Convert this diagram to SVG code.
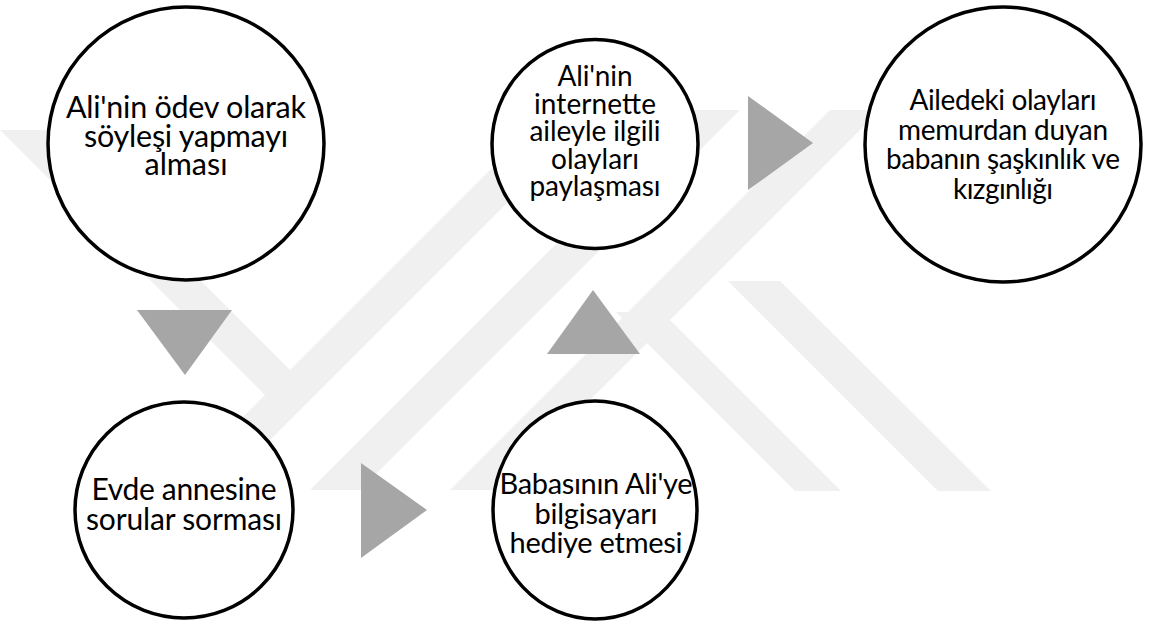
<svg xmlns="http://www.w3.org/2000/svg" width="1150" height="626" viewBox="0 0 1150 626">
<style>
.wm{fill:#f0f0f0}
.node ellipse{fill:#fff;stroke:#000;stroke-width:3.5}
.node text{font-family:Lato,"Liberation Sans",sans-serif;fill:#000;text-anchor:middle}
.arr{fill:#a6a6a6}
</style>
<rect width="1150" height="626" fill="#fff"/>
<g id="watermark">
<polygon class="wm" points="0,130 50,130 315,395 265,395"/>
<polygon class="wm" points="190,470 240,470 610,100 560,100"/>
<polygon class="wm" points="310,490 360,490 740,110 690,110"/>
<polygon class="wm" points="450,490 500,490 880,110 830,110"/>
<polygon class="wm" points="616,312 662,312 841,491 795,491"/>
<polygon class="wm" points="728,281 780,281 991,491 938,491"/>
</g>
<g id="connectors">
<polygon class="arr" points="137,310 232,310 185,375"/>
<polygon class="arr" points="361,463 361,558 427,510"/>
<polygon class="arr" points="547,354 640,354 593,290"/>
<polygon class="arr" points="748,96 748,190 813,143"/>
</g>
<g id="n1" class="node">
<ellipse cx="186" cy="143.5" rx="138" ry="136.5"/>
<text font-size="30.5"><tspan x="186" y="118" textLength="240">Ali'nin ödev olarak</tspan><tspan x="186" y="146.5" textLength="204">söyleşi yapmayı</tspan><tspan x="186" y="175" textLength="83">alması</tspan></text>
</g>
<g id="n2" class="node">
<ellipse cx="595" cy="144" rx="103" ry="104.5"/>
<text font-size="28"><tspan x="595" y="86" textLength="75">Ali'nin</tspan><tspan x="595" y="113.5" textLength="122">internette</tspan><tspan x="595" y="141" textLength="131">aileyle ilgili</tspan><tspan x="595" y="168.5" textLength="88">olayları</tspan><tspan x="595" y="196" textLength="131">paylaşması</tspan></text>
</g>
<g id="n3" class="node">
<ellipse cx="1003" cy="144.5" rx="138" ry="137.5"/>
<text font-size="28"><tspan x="1003" y="110" textLength="187">Ailedeki olayları</tspan><tspan x="1003" y="139.5" textLength="210">memurdan duyan</tspan><tspan x="1003" y="169" textLength="234">babanın şaşkınlık ve</tspan><tspan x="1003" y="198.5" textLength="100">kızgınlığı</tspan></text>
</g>
<g id="n4" class="node">
<ellipse cx="184" cy="510" rx="109" ry="108"/>
<text font-size="30"><tspan x="184" y="500" textLength="185">Evde annesine</tspan><tspan x="184" y="530" textLength="196">sorular sorması</tspan></text>
</g>
<g id="n5" class="node">
<ellipse cx="595" cy="510" rx="102" ry="109"/>
<text font-size="29"><tspan x="596" y="494" textLength="193">Babasının Ali'ye</tspan><tspan x="596" y="523.5" textLength="123">bilgisayarı</tspan><tspan x="596" y="553" textLength="173">hediye etmesi</tspan></text>
</g>
</svg>
